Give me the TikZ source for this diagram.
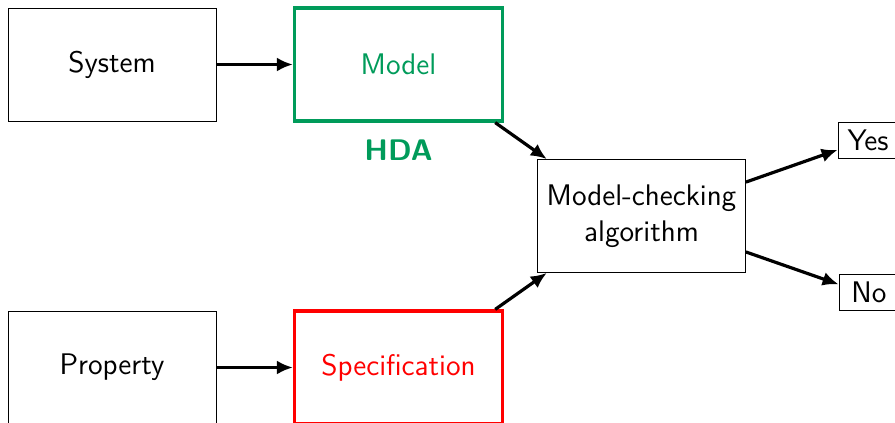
\documentclass[tikz,border=0pt]{standalone}
\usepackage{amsmath}
\usepackage{tikz}
\usetikzlibrary{arrows.meta}
\definecolor{hdagreen}{RGB}{0,155,90}

\begin{document}
\begin{tikzpicture}[x=0.5pt,y=-0.5pt,font=\sffamily\fontsize{14.9}{18}\selectfont,
	block/.style={draw,minimum width=104pt,minimum height=56.5pt},
	small/.style={draw,inner sep=2pt,minimum width=30pt,minimum height=18pt},
	flow/.style={ultra thick,-{Latex[length=8pt,width=7pt]}}]
			\useasboundingbox (0,0) rectangle (895,423);
			\node [block] (system) at (112,64.5) {System};
			\node [block,draw=hdagreen,ultra thick,text=hdagreen] (model) at (398.5,64.5) {Model};
			\node [text=hdagreen] (hda) at (398.5,150) {\bfseries HDA};
			\node [block] (property) at (112,367.5) {Property};
			\node [block,draw=red,ultra thick,text=red] (spec) at (398.5,367.5) {Specification};
			\node [block,align=center] (mc) at (641.5,216) {Model-checking\\algorithm};
			\node [small] (yes) at (868,140) {Yes};
			\node [small] (no) at (869,292.5) {No};
			\draw [flow] (system) -- (model);
			\draw [flow] (property) -- (spec);
			\draw [flow] (model.-31) -- (mc.149);
			\draw [flow] (spec.31) -- (mc.211);
			\draw [flow] (mc.18) -- (yes.198);
			\draw [flow] (mc.-19) -- (no.165);
		\end{tikzpicture}
\end{document}
